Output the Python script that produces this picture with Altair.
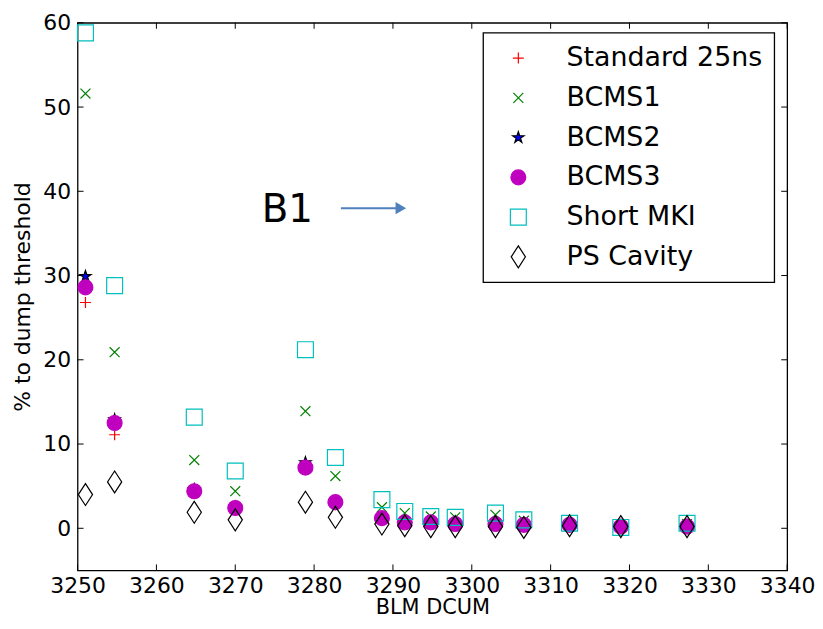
import altair as alt
import pandas as pd

# ---------------- data ----------------
series_names = ["Standard 25ns", "BCMS1", "BCMS2", "BCMS3", "Short MKI", "PS Cavity"]

blm_dcum = [3251.0, 3254.7, 3264.8, 3270.0, 3278.9, 3282.7, 3288.6, 3291.5,
            3294.8, 3297.9, 3303.0, 3306.6, 3312.4, 3318.9, 3327.3]

standard_25ns = [26.8, 11.1, 4.3, 2.2, 7.0, 2.8, 1.0, 0.6, 0.5, 0.4, 0.4, 0.3, 0.2, 0.1, 0.1]
bcms1 = [51.6, 20.9, 8.1, 4.4, 13.9, 6.2, 2.5, 1.8, 1.4, 1.3, 1.6, 0.9, 0.5, 0.2, 0.5]
bcms2 = [29.9, 12.9, 4.6, 2.5, 7.8, 3.1, 1.2, 0.8, 0.7, 0.6, 0.6, 0.5, 0.4, 0.2, 0.3]
bcms3 = [28.6, 12.5, 4.4, 2.4, 7.2, 3.1, 1.2, 0.7, 0.7, 0.5, 0.5, 0.4, 0.4, 0.2, 0.2]
short_mki = [58.8, 28.8, 13.2, 6.8, 21.2, 8.4, 3.4, 2.0, 1.4, 1.3, 1.8, 1.0, 0.6, 0.1, 0.6]
ps_cavity = [4.0, 5.5, 1.9, 1.0, 3.1, 1.3, 0.5, 0.3, 0.2, 0.2, 0.2, 0.1, 0.3, 0.2, 0.2]

x_ticks = [3250, 3260, 3270, 3280, 3290, 3300, 3310, 3320, 3330, 3340]
y_ticks = [0, 10, 20, 30, 40, 50, 60]

annot_text = ["B1"]
annot_x = [3276.6]
annot_y = [36.4]
arrow_x_start = [3283.4]
arrow_x_end = [3290.5]
arrow_head_x = [3291.0]
arrow_y = [38.0]

# ---------------- styles ----------------
plus_path = "M-1,0L1,0M0,-1L0,1"
x_path = "M-1,-1L1,1M-1,1L1,-1"
star_path = ("M0,-1L0.2245,-0.309L0.951,-0.309L0.363,0.118L0.588,0.809L0,0.382"
             "L-0.588,0.809L-0.363,0.118L-0.951,-0.309L-0.2245,-0.309Z")
diamond_path = "M0,-1L0.65,0L0,1L-0.65,0Z"

shapes = [plus_path, x_path, star_path, "circle", "square", diamond_path]
strokes = ["#ff0000", "#008000", "#000000", "#bf00bf", "#00bfbf", "#000000"]
fills = ["transparent", "transparent", "#0000ff", "#bf00bf", "transparent", "transparent"]
sizes = [121, 100, 144, 225, 256, 484]

values = [standard_25ns, bcms1, bcms2, bcms3, short_mki, ps_cavity]
rows = []
for name, ys in zip(series_names, values):
    for xv, yv in zip(blm_dcum, ys):
        rows.append({"series": name, "x": xv, "y": yv})
df = pd.DataFrame(rows)

W, H = 714, 551
FONT = "DejaVu Sans"

xscale = alt.Scale(domain=[3250, 3340], nice=False, zero=False)
yscale = alt.Scale(domain=[-5, 60], nice=False, zero=False)
xaxis = alt.Axis(title="BLM DCUM", values=x_ticks, format="d", ticks=False, tickSize=0,
                 domain=False, grid=False, labelPadding=5, titlePadding=0,
                 labelFlush=False, labelOverlap=False)
yaxis = alt.Axis(title="% to dump threshold", values=y_ticks, format="d", ticks=False,
                 tickSize=0, domain=False, grid=False, labelPadding=7, titlePadding=8,
                 labelFlush=False, labelOverlap=False)


def X(field):
    return alt.X(field, type="quantitative", scale=xscale, axis=xaxis)


def Y(field):
    return alt.Y(field, type="quantitative", scale=yscale, axis=yaxis)


points = alt.Chart(df).mark_point(opacity=1, strokeWidth=1.2).encode(
    x=X("x"),
    y=Y("y"),
    shape=alt.Shape("series:N", scale=alt.Scale(domain=series_names, range=shapes),
                    title=None, sort=series_names),
    stroke=alt.Stroke("series:N", scale=alt.Scale(domain=series_names, range=strokes),
                      title=None, sort=series_names),
    fill=alt.Fill("series:N", scale=alt.Scale(domain=series_names, range=fills),
                  title=None, sort=series_names),
    size=alt.Size("series:N", scale=alt.Scale(type="ordinal", domain=series_names, range=sizes),
                  title=None, sort=series_names),
)

xt = pd.DataFrame({"v": x_ticks})
yt = pd.DataFrame({"v": y_ticks})
TL = 6
tick_bottom = alt.Chart(xt).mark_rule(color="black", strokeWidth=1).encode(
    x=X("v"), y=alt.value(H), y2=alt.value(H - TL))
tick_top = alt.Chart(xt).mark_rule(color="black", strokeWidth=1).encode(
    x=X("v"), y=alt.value(0), y2=alt.value(TL))
tick_left = alt.Chart(yt).mark_rule(color="black", strokeWidth=1).encode(
    y=Y("v"), x=alt.value(0), x2=alt.value(TL))
tick_right = alt.Chart(yt).mark_rule(color="black", strokeWidth=1).encode(
    y=Y("v"), x=alt.value(W), x2=alt.value(W - TL))

adf = pd.DataFrame({"t": annot_text, "x": annot_x, "y": annot_y})
label = alt.Chart(adf).mark_text(font=FONT, fontSize=39, color="black",
                                 align="center", baseline="alphabetic").encode(
    x=X("x"), y=Y("y"), text="t:N")

arr = pd.DataFrame({"x": arrow_x_start, "x2": arrow_x_end, "y": arrow_y, "hx": arrow_head_x})
arrow_line = alt.Chart(arr).mark_rule(color="#4f81bd", strokeWidth=2).encode(
    x=X("x"), x2="x2", y=Y("y"))
arrow_head = alt.Chart(arr).mark_point(shape="triangle-right", filled=True, opacity=1,
                                       color="#4f81bd", size=150).encode(
    x=X("hx"), y=Y("y"))

chart = alt.layer(
    tick_bottom, tick_top, tick_left, tick_right, points, label, arrow_line, arrow_head
).properties(
    width=W, height=H,
    autosize=alt.AutoSizeParams(type="none"),
    padding={"left": 70, "top": 13, "right": 28, "bottom": 47},
).configure_view(
    stroke="black", strokeWidth=1.3
).configure_axis(
    labelFont=FONT, labelFontSize=22, labelColor="black",
    titleFont=FONT, titleFontSize=22, titleColor="black", titleFontWeight="normal",
).configure_axisX(titleFontSize=21).configure_legend(
    orient="none", legendX=408, legendY=10, padding=12,
    strokeColor="black", strokeWidth=1.3, fillColor="white", cornerRadius=0,
    labelFont=FONT, labelFontSize=27, labelColor="black", labelLimit=400,
    rowPadding=12, symbolOffset=10, labelOffset=35, symbolStrokeWidth=1.2,
)

chart.save("out.html", embed_options={"renderer": "svg", "actions": False})
